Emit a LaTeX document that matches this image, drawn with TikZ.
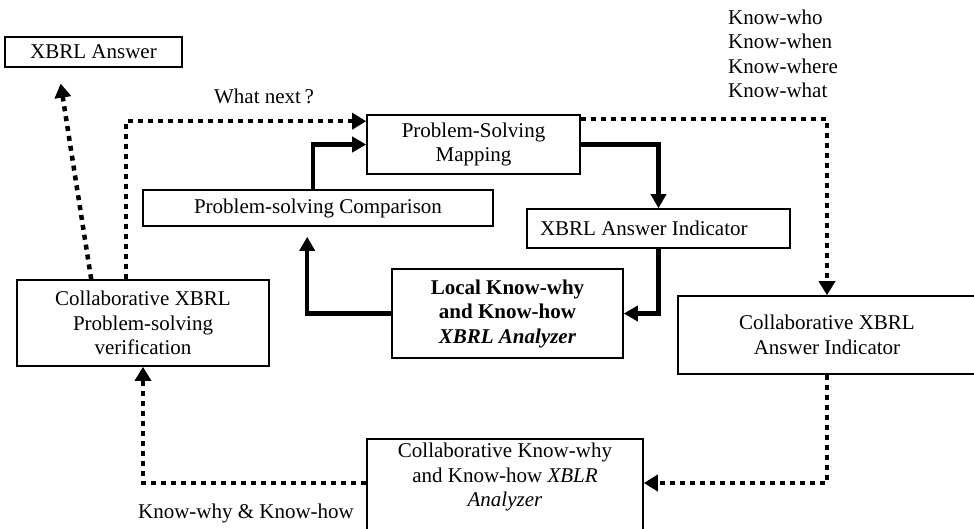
\documentclass[tikz,border=0pt]{standalone}
\usepackage{fontspec}
\setmainfont{Liberation Serif}
\usetikzlibrary{arrows.meta,calc}
\begin{document}
\begin{tikzpicture}[x=1pt,y=-1pt,
  every node/.style={font=\fontsize{21}{24.5}\selectfont},
  box/.style={draw, line width=1.6pt, align=center, inner sep=0pt},
  thickarr/.style={line width=4.5pt, -{Triangle[length=14pt,width=15pt]}},
  dotarr/.style={line width=4.5pt, dash pattern=on 5pt off 5pt, -{Triangle[length=14pt,width=16pt]}}]
\useasboundingbox (0,0) rectangle (974,528);
\clip (0,0) rectangle (974,528);
% boxes
\node[box, minimum width=177pt, minimum height=30pt] (ans) at (93.5,52) {XBRL Answer};
\node[box, minimum width=213pt, minimum height=59pt] (map) at (473.5,144.5) {Problem-Solving\\Mapping};
\node[box, minimum width=350pt, minimum height=36pt] (cmp) at (318,208) {Problem-solving Comparison};
\node[box, align=flush left, text width=237pt, inner xsep=13pt, minimum height=39pt] (ind) at (658.5,228.5) {XBRL Answer Indicator};
\node[box, minimum width=231pt, minimum height=89pt, font=\fontsize{21}{24.5}\selectfont\bfseries] (loc) at (507.5,313.5) {Local Know-why\\and Know-how\\\textit{XBRL Analyzer}};
\node[box, minimum width=252pt, minimum height=86pt] (ver) at (143,323) {Collaborative XBRL\\Problem-solving\\verification};
\node[box, minimum width=298pt, minimum height=78pt] (cai) at (827,335) {Collaborative XBRL\\Answer Indicator};
\node[box, minimum width=276pt, minimum height=140pt, anchor=north] (ck) at (505,438) {};
\node[align=center, inner sep=0pt] (ckt) at (505,477) {Collaborative Know-why\\and Know-how \textit{XBLR}\\\textit{Analyzer}};
% labels
\node[inner sep=0pt] (wn) at (264,96) {What next\,?};
\node[align=left, anchor=west, inner sep=0pt] (kw) at (728,54) {Know-who\\Know-when\\Know-where\\Know-what};
\node[inner sep=0pt] (kh) at (246,513) {Know-why \& Know-how};
% connectors
\coordinate (v1) at ($(ver.north west)+(75,0)$);
\coordinate (a1) at ($(ans.south west)+(54,0)$);
\draw[dotarr, shorten >=16pt] (v1) -- (a1);
\draw[dotarr] ($(ver.north west)+(110,0)$) |- ($(map.north west)+(0,7)$);
\draw[thickarr] ($(cmp.north west)+(171,0)$) |- (map.west);
\draw[thickarr] (map.east) -| (ind.north);
\draw[thickarr] (ind.south) |- (loc.east);
\draw[thickarr] (loc.west) -| ($(cmp.south west)+(165,10)$);
\draw[dotarr] ($(map.north east)+(0,5)$) -| (cai.north);
\draw[dotarr] (cai.south) |- ($(ck.north east)+(0,45)$);
\draw[dotarr] ($(ck.north west)+(0,45)$) -| (ver.south);
\end{tikzpicture}
\end{document}
